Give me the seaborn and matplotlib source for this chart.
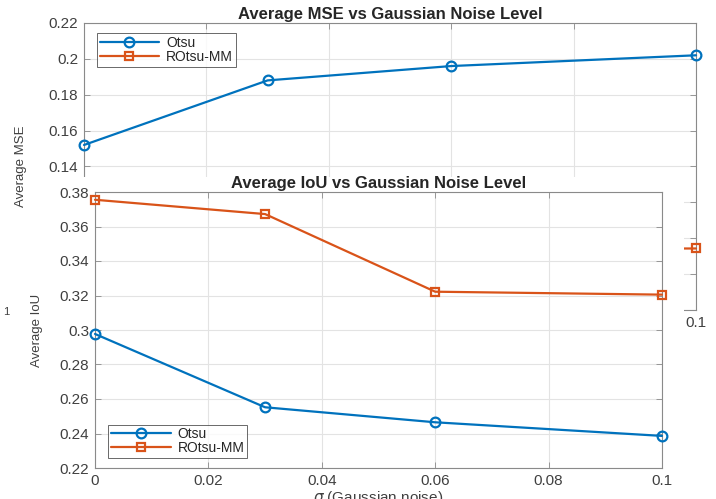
import matplotlib

matplotlib.use("Agg")
import matplotlib.pyplot as plt
import pandas as pd
import seaborn as sns
from matplotlib.patches import Rectangle

sigma = [0, 0.03, 0.06, 0.1]
mse_otsu = [0.152, 0.188, 0.196, 0.202]
mse_rotsu = [0.089, 0.091, 0.094, 0.0943]
iou_otsu = [0.2977, 0.2552, 0.2465, 0.2386]
iou_rotsu = [0.3755, 0.3672, 0.3222, 0.3205]

x_ticks = [0, 0.02, 0.04, 0.06, 0.08, 0.1]
iou_x_labels = ["0", "0.02", "0.04", "0.06", "0.08", "0.1"]
# the lower part of the MSE panel is covered by the IoU panel
mse_x_labels = ["", "", "", "", "", "0.1"]
mse_ticks = [0.06, 0.08, 0.10, 0.12, 0.14, 0.16, 0.18, 0.2, 0.22]
mse_labels = ["", "", "", "", "0.14", "0.16", "0.18", "0.2", "0.22"]
iou_ticks = [0.22, 0.24, 0.26, 0.28, 0.3, 0.32, 0.34, 0.36, 0.38]
iou_labels = ["0.22", "0.24", "0.26", "0.28", "0.3", "0.32", "0.34", "0.36", "0.38"]

methods = ["Otsu", "ROtsu-MM"]
colors = {"Otsu": "#0072BD", "ROtsu-MM": "#D95319"}
markers = {"Otsu": "o", "ROtsu-MM": "s"}

mse = pd.DataFrame({"sigma": sigma * 2, "value": mse_otsu + mse_rotsu,
                    "method": ["Otsu"] * 4 + ["ROtsu-MM"] * 4})
iou = pd.DataFrame({"sigma": sigma * 2, "value": iou_otsu + iou_rotsu,
                    "method": ["Otsu"] * 4 + ["ROtsu-MM"] * 4})

sns.set_style("white")
plt.rcParams["font.family"] = ["Liberation Sans", "DejaVu Sans"]
plt.rcParams["mathtext.fontset"] = "dejavusans"

W, H = 716, 499
TEXT = "#404040"
fig = plt.figure(figsize=(W / 100, H / 100), dpi=100)


def px_rect(left, top, right, bottom):
    return [left / W, 1 - bottom / H, (right - left) / W, (bottom - top) / H]


def draw(ax, frame, xl, yt, yl, ylim):
    for m in methods:
        sub = frame[frame["method"] == m]
        sns.lineplot(data=sub, x="sigma", y="value", ax=ax, label=m,
                     color=colors[m], marker=markers[m], markersize=7 if m == "Otsu" else 6,
                     markerfacecolor="none", markeredgecolor=colors[m],
                     markeredgewidth=1.6, linewidth=1.6, clip_on=False, zorder=3)
    ax.set_xlim(0, 0.1)
    ax.set_ylim(*ylim)
    ax.set_xticks(x_ticks)
    ax.set_xticklabels(xl)
    ax.set_yticks(yt)
    ax.set_yticklabels(yl)
    ax.grid(True, color="#e3e3e3", linewidth=0.8)
    ax.set_axisbelow(True)
    for s in ax.spines.values():
        s.set_color("#8a8a8a")
        s.set_linewidth(0.8)
    ax.tick_params(direction="in", length=4, width=0.6, color="#8a8a8a",
                   labelsize=11, labelcolor=TEXT, top=True, right=True,
                   left=True, bottom=True, pad=4)


def style_legend(ax, **kw):
    leg = ax.legend(fontsize=10, frameon=True, fancybox=False, edgecolor="#262626",
                    handlelength=4.3, handletextpad=0.5, labelspacing=0.0,
                    borderpad=0.2, borderaxespad=0, **kw)
    leg.get_frame().set_linewidth(0.6)


ax1 = fig.add_axes(px_rect(84, 23, 696, 310))
draw(ax1, mse, mse_x_labels, mse_ticks, mse_labels, (0.06, 0.22))
ax1.set_title("Average MSE vs Gaussian Noise Level", fontsize=12, fontweight="bold", pad=3)
ax1.set_xlabel("")
ax1.set_ylabel("Average MSE", fontsize=9.5, color=TEXT)
ax1.yaxis.set_label_coords((27 - 84) / 612, 0.5)
style_legend(ax1, loc="upper left", bbox_to_anchor=(0.021, 0.965))
ax1.set_zorder(0)

cover = Rectangle((25 / W, 0), (684 - 25) / W, 1 - 177 / H, transform=fig.transFigure,
                  facecolor="white", edgecolor="none", zorder=1)
fig.add_artist(cover)

ax2 = fig.add_axes(px_rect(95, 192, 662, 468))
draw(ax2, iou, iou_x_labels, iou_ticks, iou_labels, (0.22, 0.38))
ax2.set_facecolor("white")
ax2.set_title("Average IoU vs Gaussian Noise Level", fontsize=12, fontweight="bold", pad=3)
ax2.set_xlabel(r"$\sigma$ (Gaussian noise)", fontsize=11, color=TEXT, labelpad=1)
ax2.set_ylabel("Average IoU", fontsize=9.5, color=TEXT)
ax2.yaxis.set_label_coords((43 - 95) / 567, 0.5)
style_legend(ax2, loc="lower left", bbox_to_anchor=(0.023, 0.036))
ax2.set_zorder(2)

fig.text(3 / W, 1 - 312 / H, "1", fontsize=8, color=TEXT, va="center")

fig.savefig("out.png", dpi=100)
